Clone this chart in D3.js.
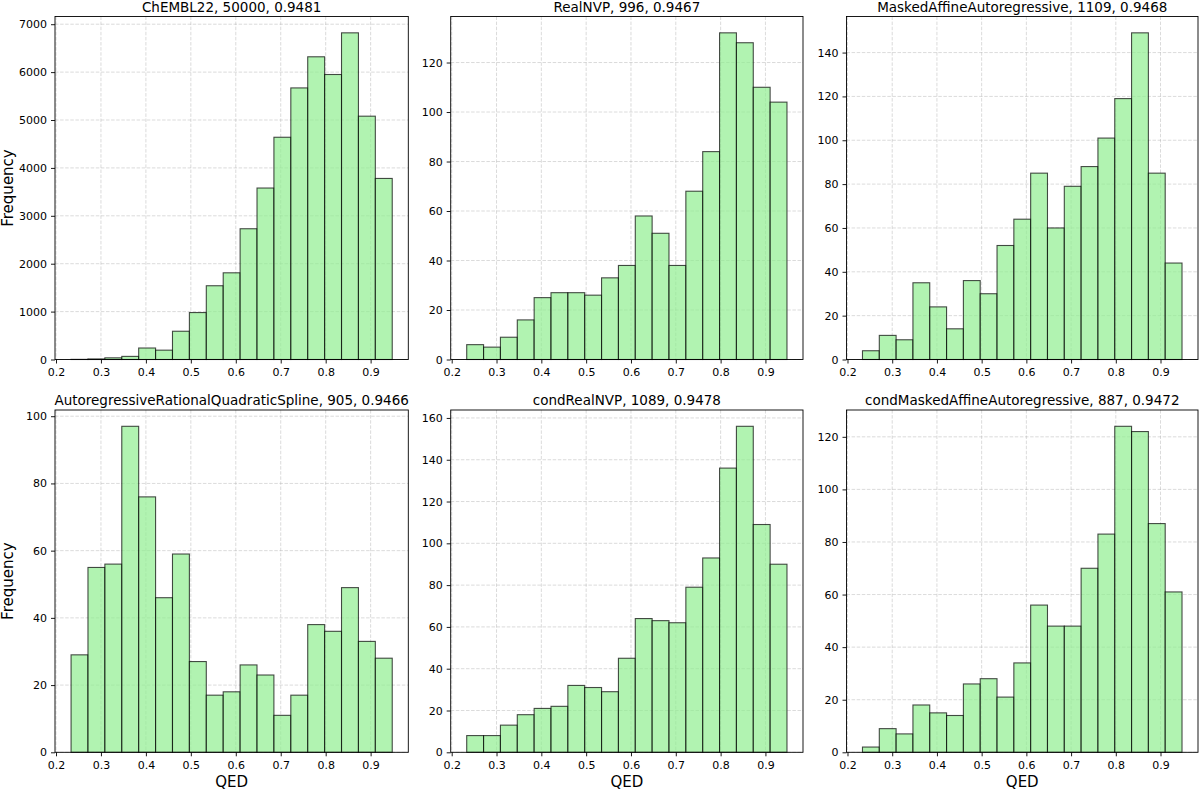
<!DOCTYPE html>
<html>
<head>
<meta charset="utf-8">
<script src="https://cdn.jsdelivr.net/npm/d3@7/dist/d3.min.js"></script>
<style>
  html, body { margin: 0; padding: 0; background: #fff; }
  svg { display: block; font-family: "DejaVu Sans", sans-serif; }
</style>
</head>
<body>
<svg id="chart" width="1200" height="790"></svg>
<script>
// ---- Data ----
const binStart = 0.2335;
const binEnd = 0.9481;
const binCount = 19;

const titles = [
  "ChEMBL22, 50000, 0.9481",
  "RealNVP, 996, 0.9467",
  "MaskedAffineAutoregressive, 1109, 0.9468",
  "AutoregressiveRationalQuadraticSpline, 905, 0.9466",
  "condRealNVP, 1089, 0.9478",
  "condMaskedAffineAutoregressive, 887, 0.9472"
];

const chemblCounts = [3, 12, 35, 65, 240, 195, 590, 980, 1540, 1810, 2730, 3580, 4640, 5670, 6320, 5950, 6820, 5080, 3780];
const realNVPCounts = [6, 5, 9, 16, 25, 27, 27, 26, 33, 38, 58, 51, 38, 68, 84, 132, 128, 110, 104];
const mafCounts = [4, 11, 9, 35, 24, 14, 36, 30, 52, 64, 85, 60, 79, 88, 101, 119, 149, 85, 44];
const arqsCounts = [29, 55, 56, 97, 76, 46, 59, 27, 17, 18, 26, 23, 11, 17, 38, 36, 49, 33, 28];
const condRealNVPCounts = [8, 8, 13, 18, 21, 22, 32, 31, 29, 45, 64, 63, 62, 79, 93, 136, 156, 109, 90];
const condMafCounts = [2, 9, 7, 18, 15, 14, 26, 28, 21, 34, 56, 48, 48, 70, 83, 124, 122, 87, 61];

const xTicks = [0.2, 0.3, 0.4, 0.5, 0.6, 0.7, 0.8, 0.9];
const yTicksChembl = [0, 1000, 2000, 3000, 4000, 5000, 6000, 7000];
const yTicksRealNVP = [0, 20, 40, 60, 80, 100, 120];
const yTicksMaf = [0, 20, 40, 60, 80, 100, 120, 140];
const yTicksArqs = [0, 20, 40, 60, 80, 100];
const yTicksCondRealNVP = [0, 20, 40, 60, 80, 100, 120, 140, 160];
const yTicksCondMaf = [0, 20, 40, 60, 80, 100, 120];

const xLabel = "QED";
const yLabel = "Frequency";

// ---- Layout ----
const colLeft = [55, 450.7, 846.5];
const colRight = [408.3, 803, 1198];
const rowTop = [16.5, 410];
const rowBottom = [359.5, 752.3];

const panels = [
  { counts: chemblCounts, yTicks: yTicksChembl },
  { counts: realNVPCounts, yTicks: yTicksRealNVP },
  { counts: mafCounts, yTicks: yTicksMaf },
  { counts: arqsCounts, yTicks: yTicksArqs },
  { counts: condRealNVPCounts, yTicks: yTicksCondRealNVP },
  { counts: condMafCounts, yTicks: yTicksCondMaf }
];

const svg = d3.select("#chart");
const binWidth = (binEnd - binStart) / binCount;
const span = binEnd - binStart;
const xDomain = [binStart - 0.05 * span, binEnd + 0.05 * span];

panels.forEach((p, i) => {
  const col = i % 3, row = Math.floor(i / 3);
  const x0 = colLeft[col], x1 = colRight[col];
  const y0 = rowTop[row], y1 = rowBottom[row];

  const bins = p.counts.map((c, k) => ({
    lo: binStart + k * binWidth,
    hi: binStart + (k + 1) * binWidth,
    c: c
  }));

  const x = d3.scaleLinear().domain(xDomain).range([x0, x1]);
  const y = d3.scaleLinear().domain([0, d3.max(p.counts) * 1.05]).range([y1, y0]);

  const g = svg.append("g");

  // grid
  const grid = g.append("g");
  grid.selectAll("line.gx").data(xTicks).join("line")
    .attr("x1", d => x(d)).attr("x2", d => x(d))
    .attr("y1", y0).attr("y2", y1)
    .attr("stroke", "#b0b0b0").attr("stroke-opacity", 0.5)
    .attr("stroke-width", 0.9).attr("stroke-dasharray", "3.5,1.6");
  grid.selectAll("line.gy").data(p.yTicks).join("line")
    .attr("x1", x0).attr("x2", x1)
    .attr("y1", d => y(d)).attr("y2", d => y(d))
    .attr("stroke", "#b0b0b0").attr("stroke-opacity", 0.5)
    .attr("stroke-width", 0.9).attr("stroke-dasharray", "3.5,1.6");

  // bars
  g.append("g").selectAll("rect").data(bins).join("rect")
    .attr("x", d => x(d.lo))
    .attr("width", d => x(d.hi) - x(d.lo))
    .attr("y", d => y(d.c))
    .attr("height", d => y(0) - y(d.c))
    .attr("fill", "#90ee90").attr("fill-opacity", 0.7)
    .attr("stroke", "#000").attr("stroke-opacity", 0.7)
    .attr("stroke-width", 1.1);

  // axes
  const xAxis = d3.axisBottom(x).tickValues(xTicks).tickFormat(d3.format(".1f"))
    .tickSize(4).tickPadding(4.5);
  const yAxis = d3.axisLeft(y).tickValues(p.yTicks).tickFormat(d3.format("d"))
    .tickSize(4).tickPadding(4);

  const gx = g.append("g").attr("transform", `translate(0,${y1})`).call(xAxis);
  const gy = g.append("g").attr("transform", `translate(${x0},0)`).call(yAxis);
  [gx, gy].forEach(a => {
    a.select(".domain").remove();
    a.selectAll(".tick line").attr("stroke", "#000").attr("stroke-width", 0.9);
    a.selectAll(".tick text").attr("fill", "#000").style("font-size", "11px")
      .style("font-family", "DejaVu Sans");
  });

  // frame
  g.append("rect").attr("x", x0).attr("y", y0)
    .attr("width", x1 - x0).attr("height", y1 - y0)
    .attr("fill", "none").attr("stroke", "#000").attr("stroke-width", 0.9);

  // title
  g.append("text").attr("x", (x0 + x1) / 2).attr("y", y0 - 5)
    .attr("text-anchor", "middle").style("font-size", "13.5px").attr("fill", "#000")
    .text(titles[i]);

  if (col === 0) {
    g.append("text")
      .attr("transform", `translate(13,${(y0 + y1) / 2}) rotate(-90)`)
      .attr("text-anchor", "middle").style("font-size", "15px").attr("fill", "#000")
      .text(yLabel);
  }
  if (row === 1) {
    g.append("text").attr("x", (x0 + x1) / 2).attr("y", y1 + 35)
      .attr("text-anchor", "middle").style("font-size", "15px").attr("fill", "#000")
      .text(xLabel);
  }
});
</script>
</body>
</html>
